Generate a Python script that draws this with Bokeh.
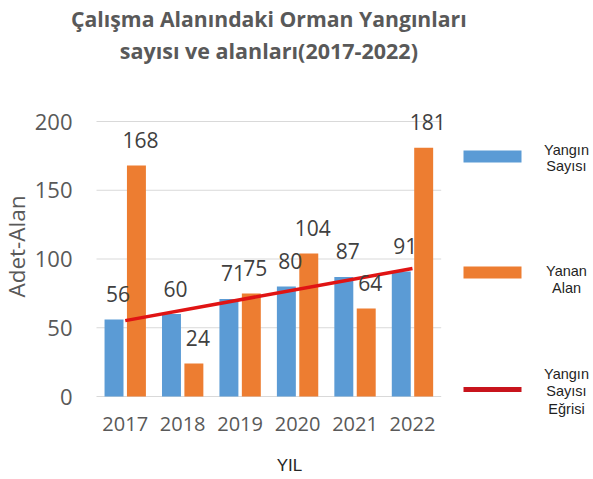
from bokeh.plotting import figure
from bokeh.models import Range1d, FixedTicker, Label, BoxAnnotation, ColumnDataSource
from bokeh.transform import dodge
from bokeh.embed import file_html
from bokeh.resources import INLINE
from bokeh.core.properties import value

# ---- data ----
years = ["2017", "2018", "2019", "2020", "2021", "2022"]
yangin_sayisi = [56, 60, 71, 80, 87, 91]      # Yangın Sayısı (blue)
yanan_alan = [168, 24, 75, 104, 64, 181]      # Yanan Alan (orange)
trend_start_end = [55.2, 93.1]                # Yangın Sayısı Eğrisi (trend line ends)
y_ticks = [0, 50, 100, 150, 200]

title_lines = ["Çalışma Alanındaki Orman Yangınları", "sayısı ve alanları(2017-2022)"]

# ---- layout constants (pixels) ----
W, H = 592, 478
X0_PX, Y0_PX = 96, 396      # pixel position of the data origin (plot area corner)
PX_X = 57.45                # pixels per category
PX_Y = 1.375                # pixels per value unit
NCAT = len(years)


def dx(px):
    return (px - X0_PX) / PX_X


def dy(py):
    return (Y0_PX - py) / PX_Y


BLUE = "#5B9BD5"
ORANGE = "#ED7D31"
RED = "#E01414"
GRAY_TXT = "#595959"
LBL_TXT = "#404040"
GRID = "#D9D9D9"

centers = [i + 0.5 for i in range(NCAT)]
src = ColumnDataSource(dict(
    x=centers,
    sayi=yangin_sayisi,
    alan=yanan_alan,
    sayi_t=[str(v) for v in yangin_sayisi],
    alan_t=[str(v) for v in yanan_alan],
))

p = figure(width=W, height=H, output_backend="svg", toolbar_location=None, title=None,
           x_range=Range1d(dx(0), dx(W)), y_range=Range1d(dy(H), dy(0)),
           min_border_left=0, min_border_right=0, min_border_top=0, min_border_bottom=0)
p.outline_line_color = None
p.background_fill_color = "white"
p.border_fill_color = "white"

# horizontal grid lines (and base line) over the category area only
p.xgrid.visible = False
p.ygrid.visible = False
p.segment(x0=[0] * len(y_ticks), x1=[NCAT] * len(y_ticks),
          y0=y_ticks, y1=y_ticks, line_color=GRID, line_width=1)

D = 0.195
BW = 0.33
p.vbar(x=dodge("x", -D), top="sayi", width=BW, bottom=0, source=src,
       fill_color=BLUE, line_color=None)
p.vbar(x=dodge("x", D), top="alan", width=BW, bottom=0, source=src,
       fill_color=ORANGE, line_color=None)

p.line(x=[centers[0], centers[-1]], y=trend_start_end, line_color=RED, line_width=3.5)

for col, txt, d in (("sayi", "sayi_t", -D), ("alan", "alan_t", D)):
    p.text(x=dodge("x", d), y=col, text=txt, source=src, x_offset=4, y_offset=-25.5,
           text_align="center", text_baseline="middle",
           text_font=value("Open Sans"), text_font_size="21px", text_color=LBL_TXT)

# axes, pinned to the data origin
xa = p.xaxis[0]
xa.fixed_location = 0
xa.ticker = FixedTicker(ticks=centers)
xa.major_label_overrides = {c: y for c, y in zip(centers, years)}
xa.bounds = (0, dx(482))          # centres the "YIL" label under the reference position
xa.axis_line_color = None
xa.major_tick_line_color = None
xa.minor_tick_line_color = None
xa.major_tick_out = 0
xa.major_tick_in = 0
xa.major_label_standoff = 20
xa.major_label_text_font = "Open Sans"
xa.major_label_text_font_size = "20px"
xa.major_label_text_color = GRAY_TXT
xa.axis_label = "YIL"
xa.axis_label_text_font = "Liberation Sans"
xa.axis_label_text_font_size = "17px"
xa.axis_label_text_font_style = "normal"
xa.axis_label_text_color = "#262626"
xa.axis_label_standoff = 22

ya = p.yaxis[0]
ya.fixed_location = 0
ya.ticker = FixedTicker(ticks=y_ticks)
ya.bounds = (0, dy(96))            # centres the axis title where the reference has it
ya.axis_line_color = None
ya.major_tick_line_color = None
ya.minor_tick_line_color = None
ya.major_tick_out = 0
ya.major_tick_in = 0
ya.major_label_standoff = 24
ya.major_label_text_font = "Open Sans"
ya.major_label_text_font_size = "22px"
ya.major_label_text_color = GRAY_TXT
ya.axis_label = "Adet-Alan"
ya.axis_label_text_font = "Open Sans"
ya.axis_label_text_font_size = "22.5px"
ya.axis_label_text_font_style = "normal"
ya.axis_label_text_color = GRAY_TXT
ya.axis_label_standoff = 0

# title (two centred lines over the category area)
for txt, py, fs in zip(title_lines, (18, 50), ("21.2px", "21.5px")):
    p.add_layout(Label(x=NCAT / 2, y=dy(py), text=txt, text_align="center",
                       text_baseline="middle", text_font="Open Sans", text_font_style="bold",
                       text_font_size=fs, text_color=GRAY_TXT))

# legend (right side)
legend_boxes = [
    (BLUE, 150, 162),
    (ORANGE, 266, 278),
    ("#C8141C", 386.5, 391.5),
]
for color, top, bot in legend_boxes:
    p.add_layout(BoxAnnotation(left=dx(463), right=dx(521), top=dy(top), bottom=dy(bot),
                               fill_color=color, fill_alpha=1.0, line_color=None, level="overlay"))

legend_texts = [
    ("Yangın", 149), ("Sayısı", 165.5),
    ("Yanan", 270), ("Alan", 287),
    ("Yangın", 373), ("Sayısı", 390), ("Eğrisi", 408),
]
for txt, py in legend_texts:
    p.add_layout(Label(x=dx(566), y=dy(py), text=txt, text_align="center",
                       text_baseline="middle", text_font="Liberation Sans",
                       text_font_size="14.5px", text_color="#1F1F1F"))

open("out.html", "w").write(file_html(p, INLINE))
